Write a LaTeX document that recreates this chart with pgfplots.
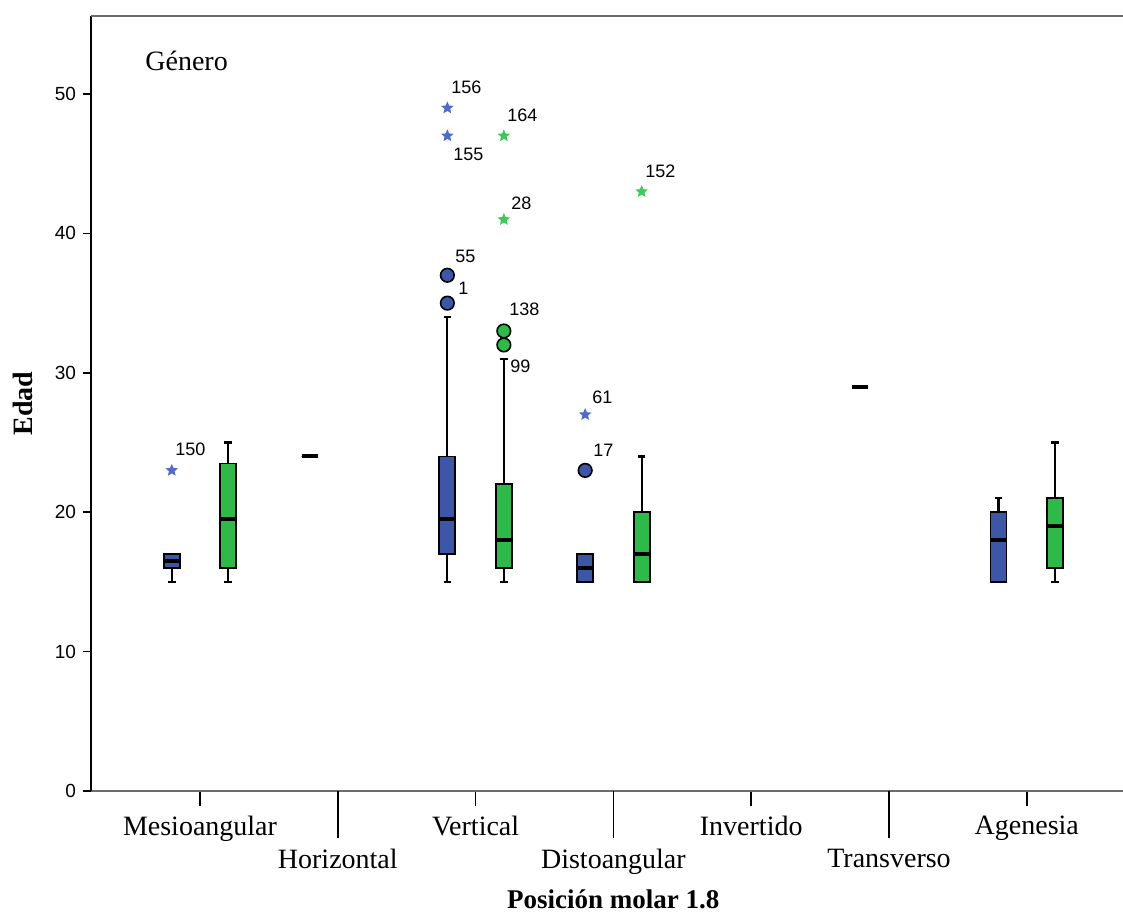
\documentclass[border=0pt]{standalone}
\usepackage{fontspec}
\setmainfont{Liberation Serif}
\newfontfamily\numfont{Liberation Sans}
\usepackage{pgfplots}
\pgfplotsset{compat=1.18}
\usepgfplotslibrary{statistics}
\definecolor{bbox}{HTML}{3C56A8}
\definecolor{gbox}{HTML}{2EBA47}
\definecolor{bstar}{HTML}{4F6BC9}
\definecolor{gstar}{HTML}{3DCB58}
\pgfdeclareplotmark{fstar}{%
  \pgfpathmoveto{\pgfqpointpolar{90}{\pgfplotmarksize}}%
  \pgfpathlineto{\pgfqpointpolar{126}{0.45\pgfplotmarksize}}%
  \pgfpathlineto{\pgfqpointpolar{162}{\pgfplotmarksize}}%
  \pgfpathlineto{\pgfqpointpolar{198}{0.45\pgfplotmarksize}}%
  \pgfpathlineto{\pgfqpointpolar{234}{\pgfplotmarksize}}%
  \pgfpathlineto{\pgfqpointpolar{270}{0.45\pgfplotmarksize}}%
  \pgfpathlineto{\pgfqpointpolar{306}{\pgfplotmarksize}}%
  \pgfpathlineto{\pgfqpointpolar{342}{0.45\pgfplotmarksize}}%
  \pgfpathlineto{\pgfqpointpolar{18}{\pgfplotmarksize}}%
  \pgfpathlineto{\pgfqpointpolar{54}{0.45\pgfplotmarksize}}%
  \pgfpathclose
  \pgfusepathqfill}
\begin{document}
\begin{tikzpicture}
\begin{axis}[
  at={(0,0)}, anchor=south west,
  scale only axis, width=516pt, height=387.5pt,
  xmin=-0.791, xmax=6.698, ymin=0, ymax=55.6,
  axis lines=left,
  axis line style={-},
  x axis line style={draw=gray!85!black, line width=1.3pt},
  y axis line style={draw=black, line width=1pt},
  tick align=outside,
  tick style={black, line width=0.8pt},
  ytick={0,10,20,30,40,50},
  major tick length=4pt,
  minor tick length=7.5pt,
  yticklabel style={font=\numfont\fontsize{9.5}{11}\selectfont, /pgf/number format/assume math mode=true},
  xtick={0,2,4,6},
  minor xtick={0,2,4,6},
  xticklabels={Mesioangular,Vertical,Invertido,Agenesia},
  xticklabel style={font=\fontsize{14}{16}\selectfont, yshift=-5pt},
  extra x ticks={1,3,5},
  extra x tick labels={Horizontal,Distoangular,Transverso},
  extra x tick style={major tick length=23.5pt, xticklabel style={font=\fontsize{14}{16}\selectfont, yshift=3pt}},
  ylabel={\textbf{Edad}},
  ylabel style={font=\fontsize{14}{16}\selectfont, at={(axis description cs:-0.0659,0.5)}, anchor=center},
  xlabel={\textbf{Posición molar 1.8}},
  xlabel style={font=\fontsize{13.5}{16}\selectfont, at={(axis description cs:0.506,0)}, anchor=center, yshift=-54pt},
  clip=false,
  boxplot/draw direction=y,
  boxplot/box extend=0.116,
  boxplot/whisker extend=0.055,
  boxplot/every median/.style={black, line width=2pt},
  boxplot/every whisker/.style={black, line width=1.1pt},
  after end axis/.code={\draw[gray!85!black, line width=1.3pt] (rel axis cs:0,1) -- (rel axis cs:1,1);},
]
% Mesioangular
\addplot[draw=black, line width=0.9pt, fill=bbox, boxplot prepared={draw position=-0.205, lower whisker=15, lower quartile=16, median=16.5, upper quartile=17, upper whisker=17}] coordinates {};
\addplot[draw=black, line width=0.9pt, fill=gbox, boxplot prepared={draw position=0.205, lower whisker=15, lower quartile=16, median=19.5, upper quartile=23.5, upper whisker=25}] coordinates {};
% Horizontal
\addplot[draw=black, line width=0.9pt, fill=bbox, boxplot prepared={draw position=0.795, lower whisker=24, lower quartile=24, median=24, upper quartile=24, upper whisker=24}] coordinates {};
% Vertical
\addplot[draw=black, line width=0.9pt, fill=bbox, boxplot prepared={draw position=1.795, lower whisker=15, lower quartile=17, median=19.5, upper quartile=24, upper whisker=34}] coordinates {};
\addplot[draw=black, line width=0.9pt, fill=gbox, boxplot prepared={draw position=2.205, lower whisker=15, lower quartile=16, median=18, upper quartile=22, upper whisker=31}] coordinates {};
% Distoangular
\addplot[draw=black, line width=0.9pt, fill=bbox, boxplot prepared={draw position=2.795, lower whisker=15, lower quartile=15, median=16, upper quartile=17, upper whisker=17}] coordinates {};
\addplot[draw=black, line width=0.9pt, fill=gbox, boxplot prepared={draw position=3.205, lower whisker=15, lower quartile=15, median=17, upper quartile=20, upper whisker=24}] coordinates {};
% Transverso
\addplot[draw=black, line width=0.9pt, fill=bbox, boxplot prepared={draw position=4.79, lower whisker=29, lower quartile=29, median=29, upper quartile=29, upper whisker=29}] coordinates {};
% Agenesia
\addplot[draw=black, line width=0.9pt, fill=bbox, boxplot prepared={draw position=5.795, lower whisker=15, lower quartile=15, median=18, upper quartile=20, upper whisker=21}] coordinates {};
\addplot[draw=black, line width=0.9pt, fill=gbox, boxplot prepared={draw position=6.205, lower whisker=15, lower quartile=16, median=19, upper quartile=21, upper whisker=25}] coordinates {};
% outliers (circles)
\addplot[only marks, mark=*, mark size=3.4pt, mark options={draw=black, fill=bbox, line width=0.8pt}] coordinates {(1.795,37) (1.795,35) (2.795,23)};
\addplot[only marks, mark=*, mark size=3.4pt, mark options={draw=black, fill=gbox, line width=0.8pt}] coordinates {(2.205,33) (2.205,32)};
% extremes (stars)
\addplot[only marks, mark=fstar, mark size=3.3pt, mark options={fill=bstar}] coordinates {(-0.205,23) (1.795,49) (1.795,47) (2.795,27)};
\addplot[only marks, mark=fstar, mark size=3.3pt, mark options={fill=gstar}] coordinates {(2.205,47) (2.205,41) (3.205,43)};
% labels
\begin{scope}[every node/.style={font=\numfont\fontsize{9}{10}\selectfont, inner sep=0pt, anchor=west}]
\node at (axis cs:-0.181,24.53) {150};
\node at (axis cs:1.821,50.50) {156};
\node at (axis cs:1.836,45.70) {155};
\node at (axis cs:2.228,48.49) {164};
\node at (axis cs:2.257,42.14) {28};
\node at (axis cs:1.851,38.34) {55};
\node at (axis cs:1.872,36.05) {1};
\node at (axis cs:2.242,34.54) {138};
\node at (axis cs:2.250,30.49) {99};
\node at (axis cs:3.229,44.48) {152};
\node at (axis cs:2.845,28.23) {61};
\node at (axis cs:2.852,24.43) {17};
\end{scope}
\node[font=\fontsize{14}{16}\selectfont, inner sep=0pt, anchor=west] at (axis cs:-0.399,52.37) {Género};
\end{axis}
\pgfresetboundingbox
\path (-45.5pt,-61pt) rectangle (516pt,395.5pt);
\end{tikzpicture}
\end{document}
